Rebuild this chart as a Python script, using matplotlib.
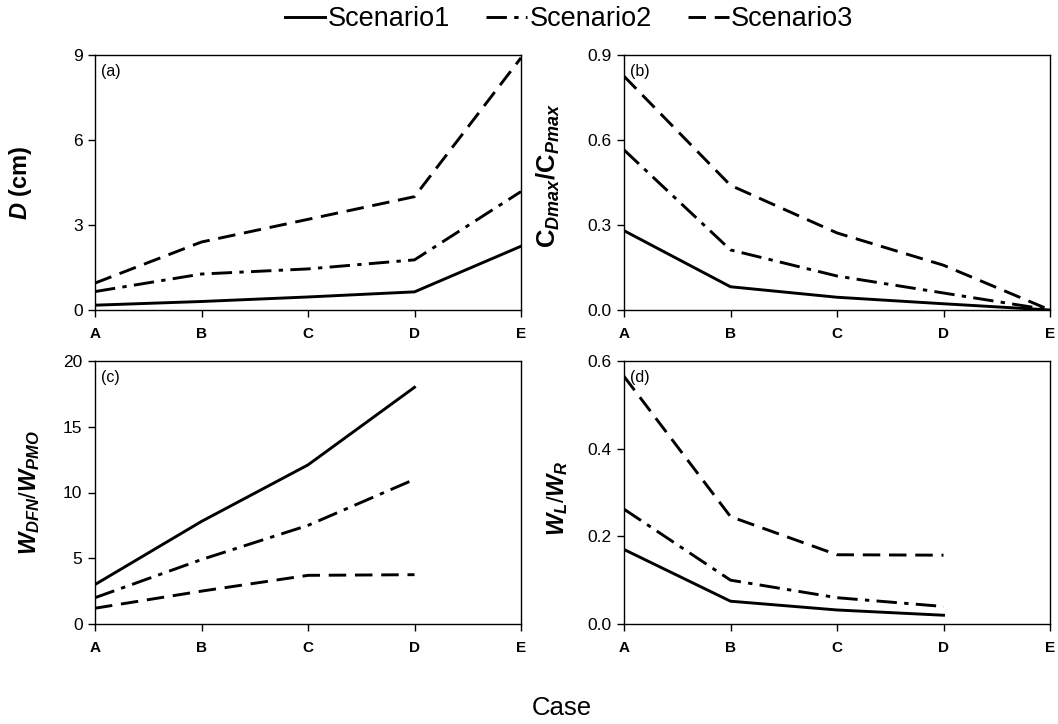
import matplotlib
matplotlib.use('Agg')
import matplotlib.pyplot as plt

plt.rcParams['font.family'] = ['Liberation Sans', 'DejaVu Sans']
plt.rcParams['mathtext.fontset'] = 'custom'
plt.rcParams['mathtext.rm'] = 'Liberation Sans'
plt.rcParams['mathtext.it'] = 'Liberation Sans:italic:bold'
plt.rcParams['mathtext.bf'] = 'Liberation Sans:bold'

# Data
cases = ['A', 'B', 'C', 'D', 'E']
scenarios = ['Scenario1', 'Scenario2', 'Scenario3']

d_s1 = [0.17, 0.30, 0.46, 0.64, 2.25]
d_s2 = [0.65, 1.27, 1.45, 1.77, 4.18]
d_s3 = [0.95, 2.40, 3.20, 4.00, 8.90]

c_s1 = [0.28, 0.082, 0.045, 0.022, 0.0]
c_s2 = [0.565, 0.212, 0.12, 0.06, 0.0]
c_s3 = [0.825, 0.44, 0.272, 0.158, 0.0]

w_s1 = [3.0, 7.8, 12.1, 18.0]
w_s2 = [2.0, 4.9, 7.5, 11.0]
w_s3 = [1.2, 2.5, 3.7, 3.75]

wl_s1 = [0.17, 0.052, 0.032, 0.02]
wl_s2 = [0.262, 0.10, 0.06, 0.04]
wl_s3 = [0.565, 0.245, 0.158, 0.157]

styles = [
    dict(linestyle='-'),
    dict(linestyle=(0, (7, 2.5, 1.5, 2.5))),
    dict(linestyle=(0, (6, 3))),
]

panels = [
    ('(a)', [d_s1, d_s2, d_s3], (0, 9), [0, 3, 6, 9], '{:.0f}',
     r'$D$ $\mathbf{(cm)}$', 17, (-0.143, 0.5)),
    ('(b)', [c_s1, c_s2, c_s3], (0, 0.9), [0, 0.3, 0.6, 0.9], '{:.1f}',
     r'$\mathbf{C}_{Dmax}\mathbf{/C}_{Pmax}$', 18.5, (-0.146, 0.53)),
    ('(c)', [w_s1, w_s2, w_s3], (0, 20), [0, 5, 10, 15, 20], '{:.0f}',
     r'$W_{DFN}/W_{PMO}$', 17, (-0.125, 0.5)),
    ('(d)', [wl_s1, wl_s2, wl_s3], (0, 0.6), [0, 0.2, 0.4, 0.6], '{:.1f}',
     r'$W_L/W_R$', 17, (-0.127, 0.48)),
]

fig = plt.figure(figsize=(10.58, 7.24), dpi=100)
W, H = 1058, 724
boxes = [(95, 55, 521, 310), (624, 55, 1050, 310),
         (95, 361, 521, 624), (624, 361, 1050, 624)]

handles = []
for (tag, series, ylim, yticks, fmt, ylabel, lsize, lpos), (l, t, r, b) in zip(panels, boxes):
    ax = fig.add_axes([l / W, 1 - b / H, (r - l) / W, (b - t) / H])
    for name, vals, st in zip(scenarios, series, styles):
        ln, = ax.plot(range(len(vals)), vals, color='black', linewidth=2.1,
                      label=name, **st)
        if tag == '(a)':
            handles.append(ln)
    ax.set_xlim(0, 4)
    ax.set_ylim(*ylim)
    ax.set_xticks(range(len(cases)))
    ax.set_xticklabels(cases, fontweight='bold', fontsize=11)
    ax.set_yticks(yticks)
    ax.set_yticklabels([fmt.format(v) for v in yticks], fontsize=12.5)
    ax.tick_params(direction='out', length=5, width=1, pad=4)
    ax.tick_params(axis='x', pad=7)
    for sp in ax.spines.values():
        sp.set_linewidth(1)
    ax.set_ylabel(ylabel, fontsize=lsize)
    ax.yaxis.set_label_coords(*lpos)
    ax.text(0.014, 0.965, tag, transform=ax.transAxes, fontsize=11.5,
            ha='left', va='top')

fig.legend(handles=handles, labels=scenarios, loc='center',
           bbox_to_anchor=(569 / W, 1 - 19 / H), ncol=3, frameon=False,
           fontsize=19.5, handlelength=1.5, handletextpad=0.08,
           columnspacing=1.35)
fig.text(562 / W, 1 - 708 / H, 'Case', ha='center', va='center', fontsize=18.5)

fig.savefig('out.png', dpi=100)
